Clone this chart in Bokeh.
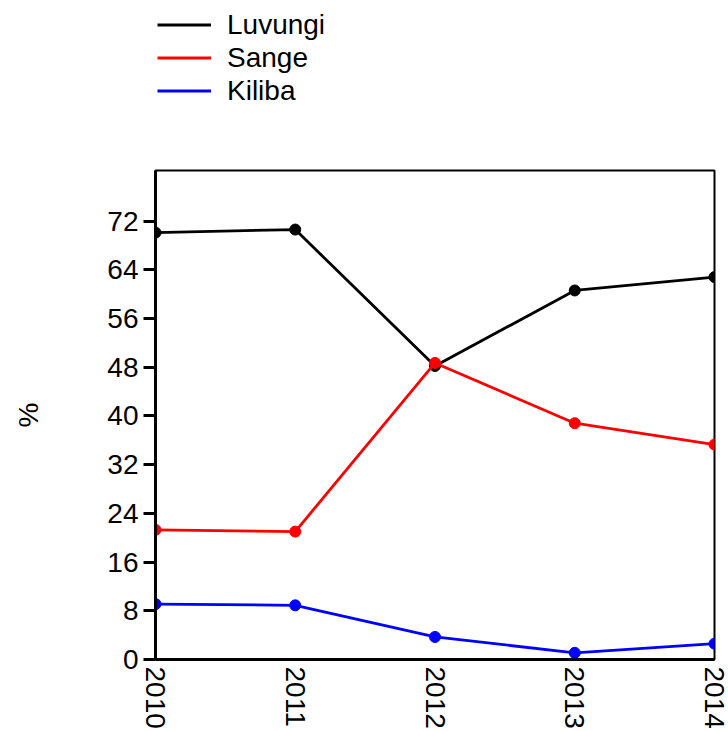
from bokeh.plotting import figure
from bokeh.layouts import column
from bokeh.models import FixedTicker, Legend, LegendItem, Range1d
from bokeh.embed import file_html
from bokeh.resources import INLINE

years = [2010, 2011, 2012, 2013, 2014]
luvungi = [70.1, 70.6, 48.2, 60.6, 62.8]
sange = [21.3, 21.0, 48.7, 38.8, 35.3]
kiliba = [9.1, 8.9, 3.7, 1.1, 2.6]
y_ticks = [0, 8, 16, 24, 32, 40, 48, 56, 64, 72]

FONT = "Liberation Sans"
series = [("Luvungi", luvungi, "black"), ("Sange", sange, "red"), ("Kiliba", kiliba, "blue")]

# ---- legend strip on top (its series lie outside its empty view) ----
TOP_H = 165
lg = figure(width=728, height=TOP_H, output_backend="svg", toolbar_location=None,
            x_axis_type=None, y_axis_type=None,
            x_range=Range1d(0, 1), y_range=Range1d(0, 1),
            min_border_left=0, min_border_right=0, min_border_top=0, min_border_bottom=0)
lg.grid.visible = False
lg.outline_line_color = None
items = []
for name, vals, col in series:
    r = lg.line(years, vals, line_color=col, line_width=2.8)
    items.append(LegendItem(label=name, renderers=[r]))
legend = Legend(items=items, location=(2, TOP_H - 107), orientation="vertical",
                label_text_font=FONT, label_text_font_size="28px", label_text_color="black",
                glyph_width=54, glyph_height=33, label_height=33, label_standoff=16,
                spacing=0, padding=0, margin=0, border_line_color=None,
                background_fill_alpha=0)
lg.add_layout(legend, "center")

# ---- main chart ----
p = figure(width=728, height=731 - TOP_H, output_backend="svg", toolbar_location=None,
           x_range=Range1d(2010, 2014), y_range=Range1d(0, 80.3),
           min_border_left=155, min_border_right=14, min_border_top=170 - TOP_H,
           min_border_bottom=71)
p.grid.visible = False
p.outline_line_color = "black"
p.outline_line_width = 2
p.background_fill_color = "white"
p.border_fill_color = "white"

for name, vals, col in series:
    p.line(years, vals, line_color=col, line_width=2.8)
    p.scatter(years, vals, color=col, size=11)

p.xaxis.ticker = FixedTicker(ticks=years)
p.yaxis.ticker = FixedTicker(ticks=y_ticks)
for ax in (p.xaxis, p.yaxis):
    ax.axis_line_width = 3
    ax.axis_line_color = "black"
    ax.major_label_text_font = FONT
    ax.major_label_text_font_size = "28px"
    ax.major_label_text_color = "black"
    ax.minor_tick_line_color = None
    ax.major_tick_line_width = 3
    ax.major_tick_line_color = "black"

p.xaxis.major_tick_out = 0
p.xaxis.major_tick_in = 0
p.xaxis.major_label_orientation = "vertical"
p.xaxis.major_label_standoff = 7

p.yaxis.major_tick_out = 12
p.yaxis.major_tick_in = 0
p.yaxis.major_label_standoff = 5
p.yaxis.major_label_orientation = "horizontal"
p.yaxis.axis_label = "%"
p.yaxis.axis_label_text_font = FONT
p.yaxis.axis_label_text_font_size = "28px"
p.yaxis.axis_label_text_font_style = "normal"
p.yaxis.axis_label_text_color = "black"
p.yaxis.axis_label_standoff = 60

layout = column(lg, p, spacing=0)
open("out.html", "w").write(file_html(layout, INLINE))
